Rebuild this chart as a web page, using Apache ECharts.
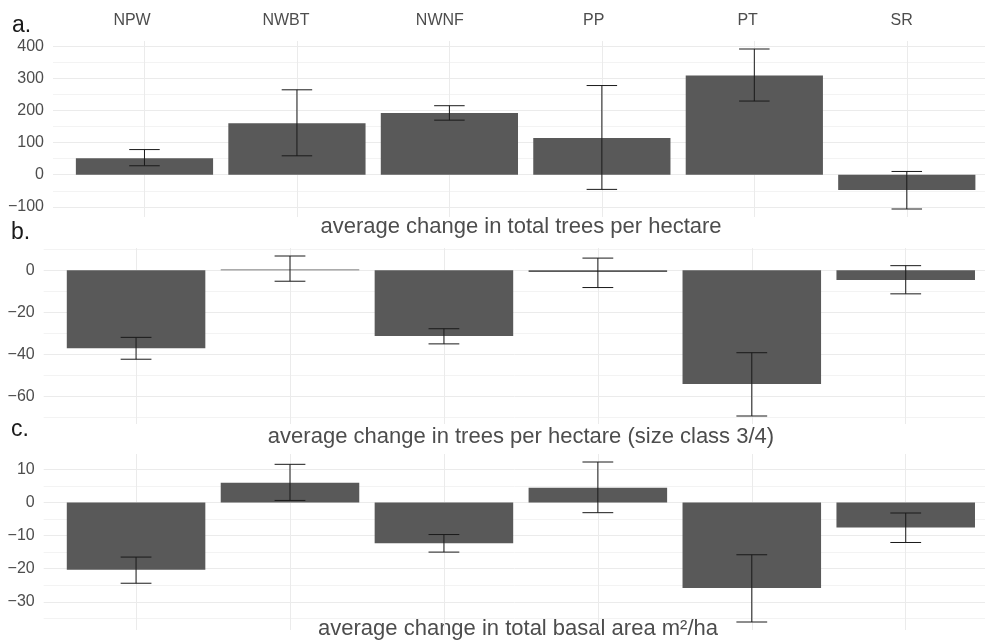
<!DOCTYPE html>
<html><head><meta charset="utf-8">
<script src="https://cdn.jsdelivr.net/npm/echarts@6/dist/echarts.min.js"></script>
<style>html,body{margin:0;padding:0;background:#fff}#c{width:985px;height:643px}</style>
</head><body><div id="c"></div>
<script>
const categories = ['NPW', 'NWBT', 'NWNF', 'PP', 'PT', 'SR'];

const totalTrees     = [51.5, 160, 192, 114.7, 308.8, -47.8];
const totalTreesLow  = [27.9, 58.9, 170, -45.6, 229.5, -106.7];
const totalTreesHigh = [78.4, 264.5, 215, 277.8, 391.6, 10.2];

const sizeClassTrees = [-37.1, 0.4, -31.3, -0.8, -54.1, -4.6];
const sizeClassLow   = [-42.3, -5.2, -35.0, -8.2, -69.3, -11.2];
const sizeClassHigh  = [-31.9, 6.8, -27.8, 5.8, -39.2, 2.2];

const basalArea     = [-20.3, 5.9, -12.3, 4.4, -25.8, -7.6];
const basalAreaLow  = [-24.4, 0.6, -15.0, -3.1, -36.1, -12.1];
const basalAreaHigh = [-16.5, 11.5, -9.7, 12.2, -15.8, -3.2];

const panelLetters = ['a.', 'b.', 'c.'];
const axisTitles = [
  'average change in total trees per hectare',
  'average change in trees per hectare (size class 3/4)',
  'average change in total basal area m\u00B2/ha'
];

const panels = [
  {vals: totalTrees, lo: totalTreesLow, hi: totalTreesHigh},
  {vals: sizeClassTrees, lo: sizeClassLow, hi: sizeClassHigh},
  {vals: basalArea, lo: basalAreaLow, hi: basalAreaHigh}
];

const FONT = 'Liberation Sans, Arial, sans-serif';
const TXT = '#4d4d4d';

function yRange(p) {
  const all = p.vals.concat(p.lo, p.hi, [0]);
  const mn = Math.min.apply(null, all), mx = Math.max.apply(null, all);
  const pad = (mx - mn) * 0.05;
  return [mn - pad, mx + pad];
}
function fmtNum(v) { return v < 0 ? '\u2212' + Math.abs(v) : String(v); }

// plot area runs past the right edge of the picture (cropped), so x max is trimmed
const grids = [
  {left: 39.7, top: 40, right: 0, height: 1},
  {left: 53, top: 41, right: 0, height: 176},
  {left: 43.7, top: 248, right: 0, height: 176},
  {left: 43.7, top: 454, right: 0, height: 176}
];
const xMaxes = [6.542, 6.513, 6.515, 6.515];

const xAxes = [];
const yAxes = [];
for (let g = 0; g < 4; g++) {
  xAxes.push({
    type: 'value', gridIndex: g, min: 0.4, max: xMaxes[g], minInterval: 1, maxInterval: 1,
    position: g === 0 ? 'top' : 'bottom',
    axisLine: {show: false}, axisTick: {show: false},
    axisLabel: g === 0 ? {
      show: true, margin: 19, verticalAlign: 'middle', fontSize: 16, color: TXT, fontFamily: FONT,
      showMinLabel: false, showMaxLabel: false,
      formatter: v => (Math.abs(v - Math.round(v)) < 1e-6 ? (categories[Math.round(v) - 1] || '') : '')
    } : {show: false},
    splitLine: g === 0 ? {show: false} : {show: true, showMinLine: false, showMaxLine: false, lineStyle: {color: '#ebebeb', width: 1}}
  });
  if (g === 0) {
    yAxes.push({type: 'value', gridIndex: 0, show: false});
  } else {
    const r = yRange(panels[g - 1]);
    yAxes.push({
      type: 'value', gridIndex: g, min: r[0], max: r[1],
      axisLine: {show: false}, axisTick: {show: false},
      axisLabel: {margin: 9, fontSize: 16, color: TXT, fontFamily: FONT, showMinLabel: false, showMaxLabel: false, formatter: fmtNum},
      splitLine: {show: true, showMinLine: false, showMaxLine: false, lineStyle: {color: '#ebebeb', width: 1}},
      minorTick: {show: false, splitNumber: 2},
      minorSplitLine: {show: true, lineStyle: {color: '#f3f3f3', width: 1}}
    });
  }
}

function renderBar(params, api) {
  const x = api.value(0), v = api.value(1);
  const a = api.coord([x - 0.45, 0]);
  const b = api.coord([x + 0.45, v]);
  return {type: 'rect', shape: {x: a[0], y: Math.min(a[1], b[1]), width: b[0] - a[0], height: Math.max(Math.abs(b[1] - a[1]), 0.8)},
    style: {fill: '#595959'}};
}
function renderErr(params, api) {
  const x = api.value(0), lo = api.value(1), hi = api.value(2);
  const t = api.coord([x, hi]), b = api.coord([x, lo]);
  const l = api.coord([x - 0.1, hi])[0], r = api.coord([x + 0.1, hi])[0];
  const st = {stroke: '#1a1a1a', lineWidth: 1};
  return {type: 'group', children: [
    {type: 'line', shape: {x1: t[0], y1: t[1], x2: b[0], y2: b[1]}, style: st},
    {type: 'line', shape: {x1: l, y1: t[1], x2: r, y2: t[1]}, style: st},
    {type: 'line', shape: {x1: l, y1: b[1], x2: r, y2: b[1]}, style: st}
  ]};
}

const series = [];
panels.forEach((p, i) => {
  series.push({
    type: 'custom', xAxisIndex: i + 1, yAxisIndex: i + 1, renderItem: renderBar, z: 2,
    encode: {x: 0, y: 1},
    data: p.vals.map((v, k) => [k + 1, v])
  });
  series.push({
    type: 'custom', xAxisIndex: i + 1, yAxisIndex: i + 1, renderItem: renderErr, z: 3,
    encode: {x: 0, y: [1, 2]},
    data: p.lo.map((v, k) => [k + 1, v, p.hi[k]])
  });
});
series.push({type: 'custom', xAxisIndex: 0, yAxisIndex: 0, renderItem: () => null, data: [[1, 0]]});

const letterPos = [[12, 25.5], [11, 233], [11, 430]];
const titlePos = [[521, 227], [521, 437], [518, 629]];
const graphic = [];
panelLetters.forEach((t, i) => graphic.push({
  type: 'text', x: letterPos[i][0], y: letterPos[i][1],
  style: {text: t, font: '23px ' + FONT, fill: '#1a1a1a', verticalAlign: 'middle'}
}));
axisTitles.forEach((t, i) => graphic.push({
  type: 'text', x: titlePos[i][0], y: titlePos[i][1],
  style: {text: t, font: '22px ' + FONT, fill: TXT, align: 'center', verticalAlign: 'middle'}
}));

const chart = echarts.init(document.getElementById('c'), null, {renderer: 'canvas'});
chart.setOption({
  animation: false,
  backgroundColor: '#fff',
  grid: grids,
  xAxis: xAxes,
  yAxis: yAxes,
  series: series,
  graphic: graphic
});
</script>
</body></html>
